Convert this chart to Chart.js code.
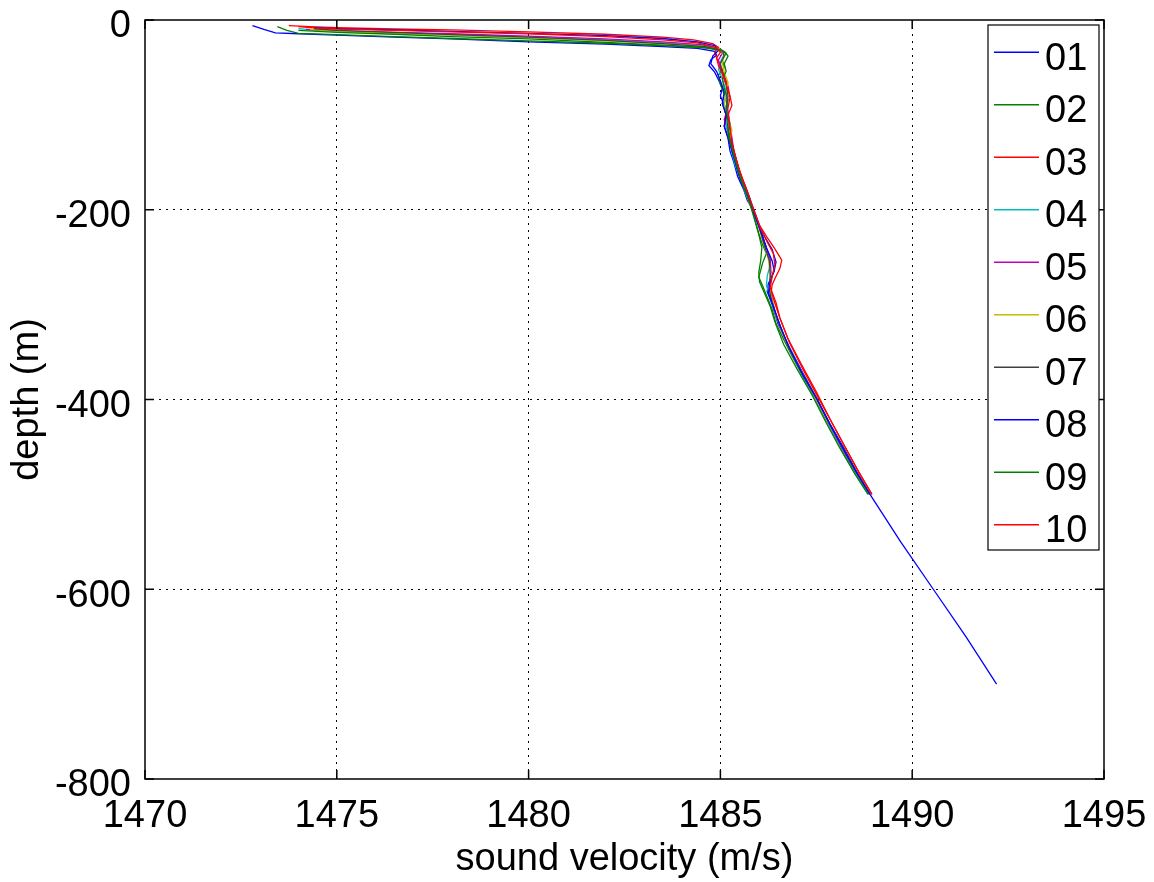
<!DOCTYPE html>
<html>
<head>
<meta charset="utf-8">
<script src="https://cdn.jsdelivr.net/npm/chart.js@4/dist/chart.umd.min.js"></script>
<style>
  html, body { margin: 0; padding: 0; background: #fff; }
  #wrap { width: 1154px; height: 882px; position: relative; }
</style>
</head>
<body>
<div id="wrap"><canvas id="c"></canvas></div>
<script>
/* sound velocity profiles — [velocity m/s, depth m] */

var xTicks = [1470, 1475, 1480, 1485, 1490, 1495];
var yTicks = [0, -200, -400, -600, -800];
var labels = ['01', '02', '03', '04', '05', '06', '07', '08', '09', '10'];
var colors = ['#0000ff', '#008000', '#ff0000', '#00bfbf', '#bf00bf',
              '#bfbf00', '#404040', '#0000ff', '#008000', '#ff0000'];

var p01 = [[1472.8,-6],[1473.1,-10],[1473.4,-13.5],[1474.0,-14.5],[1475.0,-16],[1476.5,-18],[1478.0,-20],[1480.0,-23],[1482.0,-25.5],[1483.5,-28],[1484.4,-30],[1484.85,-33],[1484.9,-37],[1484.75,-42],[1484.7,-48],[1484.85,-55],[1484.95,-63],[1485.05,-72],[1485.0,-80],[1485.1,-90],[1485.15,-102],[1485.1,-112],[1485.2,-125],[1485.25,-138],[1485.35,-150],[1485.45,-165],[1485.6,-178],[1485.7,-190],[1485.85,-200],[1485.95,-212],[1486.15,-228],[1486.35,-242],[1486.45,-255],[1486.4,-265],[1486.25,-278],[1486.22,-286],[1486.35,-300],[1486.5,-320],[1486.8,-345],[1487.15,-372],[1487.5,-398],[1487.85,-425],[1488.2,-450],[1488.55,-476],[1488.9,-500],[1489.7,-550],[1490.55,-600],[1491.4,-650],[1492.2,-700]];
var p02 = [[1473.45,-7],[1473.7,-11],[1474.0,-14],[1475.0,-15.5],[1476.5,-17.5],[1478.0,-19.5],[1480.0,-22],[1482.0,-24.5],[1483.5,-27],[1484.5,-29],[1485.0,-31],[1485.15,-35],[1485.05,-42],[1485.1,-50],[1484.95,-58],[1485.0,-68],[1485.1,-78],[1485.05,-88],[1485.15,-100],[1485.2,-115],[1485.3,-130],[1485.4,-145],[1485.45,-158],[1485.6,-172],[1485.7,-185],[1485.8,-198],[1485.9,-210],[1486.0,-225],[1486.1,-237],[1486.2,-246],[1486.1,-256],[1486.05,-264],[1486.0,-271],[1486.1,-280],[1486.2,-290],[1486.35,-305],[1486.45,-320],[1486.75,-345],[1487.1,-372],[1487.45,-398],[1487.8,-425],[1488.15,-450],[1488.5,-476],[1488.88,-500]];
var p03 = [[1473.75,-6],[1474.3,-7],[1475.0,-8],[1476.5,-9.5],[1478.0,-10.5],[1480.0,-12.5],[1482.0,-15],[1483.5,-18],[1484.3,-21],[1484.8,-25],[1484.95,-29],[1484.85,-34],[1484.9,-40],[1485.0,-48],[1485.1,-58],[1485.2,-70],[1485.25,-82],[1485.2,-92],[1485.1,-105],[1485.2,-118],[1485.3,-132],[1485.4,-146],[1485.5,-160],[1485.65,-175],[1485.75,-188],[1485.85,-200],[1486.0,-215],[1486.2,-228],[1486.4,-240],[1486.6,-253],[1486.55,-262],[1486.45,-270],[1486.35,-279],[1486.33,-285],[1486.45,-298],[1486.55,-314],[1486.75,-335],[1487.1,-362],[1487.5,-392],[1487.85,-420],[1488.25,-450],[1488.6,-476],[1488.95,-500]];
var p04 = [[1474.0,-9],[1474.5,-11],[1475.0,-12],[1476.5,-13.5],[1478.0,-15.5],[1480.0,-18],[1482.0,-21],[1483.5,-24],[1484.5,-27],[1485.0,-31],[1485.1,-36],[1485.0,-44],[1484.95,-52],[1485.05,-62],[1485.15,-75],[1485.1,-88],[1485.2,-100],[1485.15,-112],[1485.25,-126],[1485.3,-140],[1485.4,-155],[1485.55,-170],[1485.65,-183],[1485.8,-196],[1485.9,-208],[1486.05,-222],[1486.2,-240],[1486.3,-258],[1486.22,-270],[1486.2,-280],[1486.3,-292],[1486.45,-310],[1486.65,-333],[1487.0,-362],[1487.4,-394],[1487.75,-422],[1488.1,-450],[1488.5,-478],[1488.85,-500]];
var p05 = [[1474.2,-10],[1474.6,-10.5],[1475.0,-11.5],[1476.5,-13],[1478.0,-14.5],[1480.0,-17],[1482.0,-20],[1483.5,-23],[1484.5,-26],[1484.95,-30],[1485.05,-35],[1484.95,-42],[1485.0,-50],[1485.1,-60],[1485.2,-72],[1485.15,-84],[1485.2,-96],[1485.25,-110],[1485.3,-124],[1485.35,-138],[1485.45,-152],[1485.55,-166],[1485.7,-180],[1485.8,-192],[1485.92,-205],[1486.05,-220],[1486.15,-235],[1486.3,-252],[1486.32,-266],[1486.28,-280],[1486.35,-295],[1486.45,-312],[1486.7,-338],[1487.05,-366],[1487.45,-396],[1487.8,-424],[1488.15,-450],[1488.55,-478],[1488.9,-500]];
var p06 = [[1474.3,-10],[1474.7,-11],[1475.0,-12],[1476.5,-14],[1478.0,-16],[1480.0,-18.5],[1482.0,-22],[1483.5,-25],[1484.5,-27.5],[1485.0,-31],[1485.1,-37],[1485.05,-45],[1485.1,-55],[1485.2,-66],[1485.15,-78],[1485.1,-90],[1485.2,-103],[1485.3,-116],[1485.25,-128],[1485.35,-142],[1485.45,-156],[1485.55,-168],[1485.65,-180],[1485.75,-192],[1485.88,-205],[1486.0,-218],[1486.1,-232],[1486.25,-252],[1486.3,-268],[1486.28,-282],[1486.35,-296],[1486.45,-312],[1486.7,-338],[1487.05,-366],[1487.45,-396],[1487.8,-424],[1488.17,-450],[1488.55,-478],[1488.9,-500]];
var p07 = [[1474.4,-9],[1474.7,-10],[1475.0,-11],[1476.5,-13],[1478.0,-15.5],[1480.0,-18],[1482.0,-21.5],[1483.5,-25],[1484.6,-28],[1485.05,-32],[1485.1,-38],[1485.0,-46],[1485.05,-56],[1485.15,-68],[1485.2,-80],[1485.15,-94],[1485.2,-106],[1485.2,-118],[1485.3,-132],[1485.4,-146],[1485.5,-160],[1485.6,-172],[1485.75,-186],[1485.85,-198],[1485.95,-210],[1486.05,-224],[1486.15,-238],[1486.28,-254],[1486.3,-270],[1486.27,-284],[1486.35,-298],[1486.5,-316],[1486.75,-342],[1487.1,-370],[1487.5,-398],[1487.82,-424],[1488.18,-450],[1488.55,-477],[1488.9,-500]];
var p08 = [[1474.4,-8],[1474.7,-8.5],[1475.0,-9],[1476.5,-10.5],[1478.0,-12],[1480.0,-14],[1482.0,-16.5],[1483.5,-19.5],[1484.4,-23],[1484.85,-27],[1484.95,-32],[1484.8,-38],[1484.75,-46],[1484.9,-54],[1485.0,-64],[1485.1,-76],[1485.05,-88],[1485.15,-100],[1485.1,-112],[1485.2,-124],[1485.3,-138],[1485.4,-152],[1485.5,-166],[1485.62,-178],[1485.75,-190],[1485.85,-202],[1485.98,-215],[1486.1,-228],[1486.2,-240],[1486.35,-254],[1486.4,-264],[1486.3,-276],[1486.25,-288],[1486.38,-302],[1486.55,-322],[1486.8,-346],[1487.15,-374],[1487.52,-400],[1487.85,-426],[1488.2,-452],[1488.55,-477],[1488.9,-500]];
var p09 = [[1474.0,-11],[1474.5,-12],[1475.0,-13],[1476.5,-15],[1478.0,-17.5],[1480.0,-20],[1482.0,-23.5],[1483.5,-26.5],[1484.6,-29],[1485.1,-33],[1485.2,-38],[1485.1,-46],[1485.15,-54],[1485.05,-62],[1485.1,-72],[1485.2,-84],[1485.15,-96],[1485.25,-110],[1485.2,-122],[1485.3,-135],[1485.4,-150],[1485.5,-164],[1485.6,-176],[1485.72,-188],[1485.82,-200],[1485.9,-212],[1486.0,-226],[1486.08,-240],[1486.05,-254],[1486.0,-266],[1486.02,-276],[1486.15,-288],[1486.3,-302],[1486.42,-318],[1486.65,-342],[1487.0,-368],[1487.4,-396],[1487.75,-424],[1488.1,-450],[1488.5,-478],[1488.85,-500]];
var p10 = [[1474.0,-7],[1474.5,-8.5],[1475.0,-9.5],[1476.5,-11],[1478.0,-12.5],[1480.0,-14.5],[1482.0,-17.5],[1483.5,-21],[1484.4,-24],[1484.9,-29],[1485.0,-34],[1484.9,-40],[1484.95,-48],[1485.05,-57],[1485.15,-68],[1485.25,-80],[1485.3,-90],[1485.2,-100],[1485.25,-114],[1485.3,-128],[1485.38,-142],[1485.48,-156],[1485.6,-170],[1485.72,-183],[1485.82,-195],[1485.92,-206],[1486.05,-220],[1486.22,-234],[1486.38,-246],[1486.42,-258],[1486.35,-270],[1486.3,-282],[1486.4,-296],[1486.55,-314],[1486.8,-340],[1487.15,-368],[1487.55,-398],[1487.9,-424],[1488.25,-450],[1488.6,-476],[1488.95,-500]];

var profiles = [p01, p02, p03, p04, p05, p06, p07, p08, p09, p10];

var FONT = "'Liberation Sans', Arial, Helvetica, sans-serif";
var FONT_SIZE = 38;

/* ── Frame with inward ticks (MATLAB style box) ─────────────────── */
var framePlugin = {
  id: 'frame',
  afterDatasetsDraw: function(chart) {
    var ctx = chart.ctx, a = chart.chartArea;
    var xs = chart.scales.x, ys = chart.scales.y;
    var tl = 9;
    ctx.save();
    ctx.strokeStyle = '#000';
    ctx.lineWidth = 1.5;
    ctx.setLineDash([]);
    ctx.strokeRect(a.left, a.top, a.right - a.left, a.bottom - a.top);
    ctx.beginPath();
    xTicks.forEach(function(v) {
      var px = xs.getPixelForValue(v);
      ctx.moveTo(px, a.bottom); ctx.lineTo(px, a.bottom - tl);
      ctx.moveTo(px, a.top); ctx.lineTo(px, a.top + tl);
    });
    yTicks.forEach(function(v) {
      var py = ys.getPixelForValue(v);
      ctx.moveTo(a.left, py); ctx.lineTo(a.left + tl, py);
      ctx.moveTo(a.right, py); ctx.lineTo(a.right - tl, py);
    });
    ctx.stroke();
    ctx.restore();
  }
};

/* ── Legend box drawn inside the plot, top right ────────────────── */
var legendPlugin = {
  id: 'insideLegend',
  afterDraw: function(chart) {
    var ctx = chart.ctx, a = chart.chartArea;
    var boxR = a.right - 5, boxL = 988, boxT = 25, boxB = 550;
    var step = (boxB - boxT) / chart.data.datasets.length;
    ctx.save();
    ctx.fillStyle = '#fff';
    ctx.fillRect(boxL, boxT, boxR - boxL, boxB - boxT);
    ctx.strokeStyle = '#000';
    ctx.lineWidth = 1.2;
    ctx.strokeRect(boxL, boxT, boxR - boxL, boxB - boxT);
    ctx.font = FONT_SIZE + 'px ' + FONT;
    ctx.textBaseline = 'middle';
    ctx.textAlign = 'left';
    chart.data.datasets.forEach(function(ds, i) {
      var yy = boxT + step * (i + 0.5) + 1;
      ctx.strokeStyle = ds.borderColor;
      ctx.lineWidth = 1.5;
      ctx.beginPath();
      ctx.moveTo(994, yy); ctx.lineTo(1039, yy);
      ctx.stroke();
      ctx.fillStyle = '#000';
      ctx.fillText(ds.label, 1045, yy + 7);
    });
    ctx.restore();
  }
};

function gridColor(edges) {
  return function(c) {
    if (!c.tick) return 'rgba(0,0,0,0)';
    return edges.indexOf(c.tick.value) >= 0 ? 'rgba(0,0,0,0)' : '#000';
  };
}

var datasets = profiles.map(function(p, i) {
  return {
    label: labels[i],
    data: p.map(function(pt) { return { x: pt[0], y: pt[1] }; }),
    borderColor: colors[i],
    backgroundColor: colors[i],
    borderWidth: 1.3,
    showLine: true,
    pointRadius: 0,
    tension: 0,
    order: profiles.length - i
  };
});

new Chart(document.getElementById('c'), {
  type: 'scatter',
  data: { datasets: datasets },
  options: {
    responsive: true,
    maintainAspectRatio: false,
    animation: false,
    layout: { padding: { top: 20, right: 50, left: 0, bottom: 0 } },
    plugins: { legend: { display: false }, tooltip: { enabled: false } },
    scales: {
      x: {
        type: 'linear',
        min: 1470, max: 1495,
        afterBuildTicks: function(s) { s.ticks = xTicks.map(function(v) { return { value: v }; }); },
        afterFit: function(s) { s.height = 103; s.paddingLeft = 0; s.paddingRight = 0; },
        ticks: {
          color: '#000', padding: 15,
          font: { family: FONT, size: FONT_SIZE },
          callback: function(v) { return String(v); }
        },
        grid: { color: gridColor([1470, 1495]), lineWidth: 1, drawTicks: false, borderDash: [2, 5] },
        border: { display: false, dash: [2, 5] },
        title: {
          display: true, text: 'sound velocity (m/s)', color: '#000',
          font: { family: FONT, size: FONT_SIZE }, padding: { top: 0, bottom: 0 }
        }
      },
      y: {
        type: 'linear',
        min: -800, max: 0,
        afterBuildTicks: function(s) { s.ticks = yTicks.map(function(v) { return { value: v }; }); },
        afterFit: function(s) { s.width = 145; s.paddingTop = 0; s.paddingBottom = 0; },
        ticks: {
          color: '#000', padding: 14, labelOffset: 7,
          font: { family: FONT, size: FONT_SIZE },
          callback: function(v) { return String(v); }
        },
        grid: { color: gridColor([0, -800]), lineWidth: 1, drawTicks: false, borderDash: [2, 5] },
        border: { display: false, dash: [2, 5] },
        title: {
          display: true, text: 'depth (m)', color: '#000',
          font: { family: FONT, size: FONT_SIZE }, padding: { top: 5, bottom: 0 }
        }
      }
    }
  },
  plugins: [framePlugin, legendPlugin]
});
</script>
</body>
</html>
